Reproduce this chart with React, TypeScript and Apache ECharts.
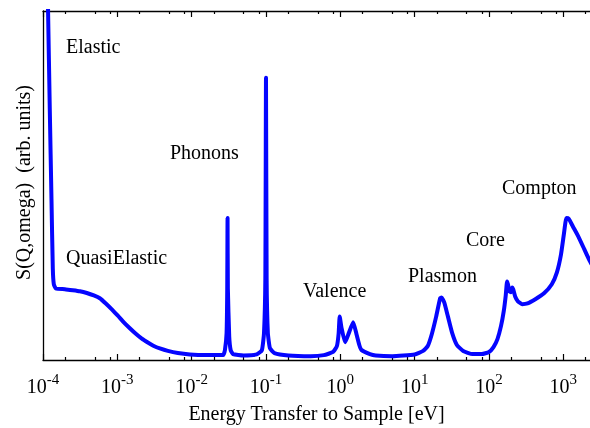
import React, { useEffect, useRef } from "react";
import * as echarts from "echarts";

// Energy transfer (eV) and S(Q,omega) in arbitrary units (0..100 = plot height)
const energies = [
  1.14e-4, 1.17e-4, 1.234e-4, 1.3e-4, 1.355e-4, 1.398e-4, 1.487e-4, 1.965e-4, 2.518e-4, 3.128e-4,
  3.886e-4, 4.828e-4, 5.815e-4, 7.001e-4, 8.433e-4, 1.0155e-3, 1.223e-3, 1.473e-3, 1.774e-3, 2.136e-3,
  2.573e-3, 3.099e-3, 3.733e-3, 4.782e-3, 6.52e-3, 9.46e-3, 0.01506, 0.0265, 0.028, 0.0295,
  0.0301, 0.0304, 0.0307, 0.032, 0.0335, 0.036, 0.05, 0.075, 0.088, 0.094,
  0.098, 0.1, 0.102, 0.106, 0.113, 0.13, 0.2, 0.4, 0.6, 0.8,
  0.9, 0.95, 0.98, 1.04, 1.16, 1.3, 1.49, 1.65, 1.8, 1.92,
  2.5, 3, 5, 10, 13, 15, 17, 19.5, 22, 23,
  25, 28, 32, 37, 45, 60, 80, 100, 115, 130,
  145, 158, 168, 175, 180, 188, 197, 205, 212, 225,
  245, 280, 330, 420, 550, 700, 820, 930, 1020, 1100,
  1180, 1350, 1600, 1900, 2250, 2400,
];
const intensity = [
  114.5, 100, 71.8, 46.2, 26.2, 21.7, 20.5, 20.3, 20.0, 19.7,
  19.2, 18.5, 17.7, 16.2, 14.5, 12.7, 10.8, 9.1, 7.5, 6.1,
  5.0, 4.0, 3.3, 2.6, 2.0, 1.6, 1.4, 1.4, 2.8, 7.7,
  20.5, 40.7, 20.5, 6.8, 2.8, 1.7, 1.3, 1.6, 2.8, 7.7,
  23.4, 80.9, 23.4, 7.7, 3.4, 2.0, 1.3, 1.1, 1.4, 2.3,
  4.0, 7.7, 12.5, 9.1, 5.1, 7.7, 10.8, 7.4, 4.3, 2.9,
  1.7, 1.3, 1.1, 1.6, 2.6, 4.0, 7.4, 12.5, 17.7, 17.9,
  16.5, 12.5, 7.7, 4.3, 2.6, 1.7, 1.7, 2.3, 3.7, 6.0,
  9.7, 14.0, 18.5, 22.5, 21.7, 19.7, 19.4, 20.8, 20.2, 18.2,
  16.8, 16.0, 16.2, 17.4, 19.1, 21.7, 25.1, 30.2, 36.2, 40.7,
  40.5, 38.2, 35.3, 31.9, 28.5, 27.4,
];

// Axis range (decade exponents) and tick positions
const xMinExp = -4;
const xMaxExp = 3.359;
const majorExps = [-4, -3, -2, -1, 0, 1, 2, 3];
const minorFactors = [2, 5, 8];

const peakLabels = [
  { text: "Elastic", x: 66, y: 46 },
  { text: "QuasiElastic", x: 66, y: 257 },
  { text: "Phonons", x: 170, y: 152 },
  { text: "Valence", x: 303, y: 290 },
  { text: "Plasmon", x: 408, y: 275 },
  { text: "Core", x: 466, y: 239 },
  { text: "Compton", x: 502, y: 187 },
];

const xTitle = "Energy Transfer to Sample [eV]";
const yTitle = "S(Q,omega)  (arb. units)";

const FONT = "'Liberation Serif', 'Times New Roman', Times, serif";

export default function App() {
  const ref = useRef<HTMLDivElement>(null);
  useEffect(() => {
    if (!ref.current) return;
    const chart = echarts.init(ref.current, null, { renderer: "svg" });
    const minorExps: number[] = [];
    for (let d = xMinExp; d < Math.ceil(xMaxExp); d++) {
      for (const f of minorFactors) {
        const v = d + Math.log10(f);
        if (v <= xMaxExp) minorExps.push(v);
      }
    }
    const data = energies.map((e, i) => [Math.log10(e), intensity[i]]);
    const axisLineStyle = { color: "#000", width: 1.3 };
    const baseX = { type: "value", min: xMinExp, max: xMaxExp, gridIndex: 0, splitLine: { show: false } };
    chart.setOption({
      animation: false,
      grid: { left: 43, right: 0, top: 11, bottom: 66, containLabel: false },
      xAxis: [
        {
          ...baseX,
          position: "bottom",
          axisLine: { show: true, onZero: false, lineStyle: axisLineStyle },
          axisTick: { show: true, inside: true, length: 6, customValues: majorExps, lineStyle: { color: "#000", width: 1.2 } },
          axisLabel: {
            show: true,
            customValues: majorExps,
            margin: 8,
            fontFamily: FONT,
            formatter: (v: number) => `{b|10}{s|${Math.round(v)}}`,
            rich: {
              b: { fontSize: 20, fontFamily: FONT, color: "#000", verticalAlign: "bottom", lineHeight: 28 },
              s: { fontSize: 15, fontFamily: FONT, color: "#000", verticalAlign: "bottom", padding: [0, 0, 10, 0], lineHeight: 15 },
            },
          },
          name: xTitle,
          nameLocation: "middle",
          nameGap: 43,
          nameTextStyle: { fontFamily: FONT, fontSize: 20, color: "#000" },
        },
        {
          ...baseX,
          position: "bottom",
          axisLine: { show: false, onZero: false },
          axisTick: { show: true, inside: true, length: 3, customValues: minorExps, lineStyle: { color: "#000", width: 1.2 } },
          axisLabel: { show: false },
        },
        {
          ...baseX,
          position: "top",
          axisLine: { show: true, onZero: false, lineStyle: axisLineStyle },
          axisTick: { show: true, inside: true, length: 6, customValues: majorExps, lineStyle: { color: "#000", width: 1.2 } },
          axisLabel: { show: false },
        },
        {
          ...baseX,
          position: "top",
          axisLine: { show: false, onZero: false },
          axisTick: { show: true, inside: true, length: 3, customValues: minorExps, lineStyle: { color: "#000", width: 1.2 } },
          axisLabel: { show: false },
        },
      ],
      yAxis: {
        type: "value",
        min: 0,
        max: 100,
        position: "left",
        axisLine: { show: true, onZero: false, lineStyle: axisLineStyle },
        axisTick: { show: false },
        axisLabel: { show: false },
        splitLine: { show: false },
        name: yTitle,
        nameLocation: "middle",
        nameGap: 10,
        nameTextStyle: { fontFamily: FONT, fontSize: 20, color: "#000", padding: [0, 0, 0, 6] },
      },
      series: [
        {
          type: "line",
          xAxisIndex: 0,
          data,
          showSymbol: false,
          symbol: "none",
          clip: true,
          smooth: 0.15,
          lineStyle: { color: "#0505ff", width: 4, join: "round" },
        },
      ],
      graphic: peakLabels.map((l) => ({
        type: "text",
        x: l.x,
        y: l.y,
        style: { text: l.text, fontFamily: FONT, fontSize: 20, fill: "#000", verticalAlign: "middle", align: "left" },
      })),
    });
    return () => chart.dispose();
  }, []);
  return <div ref={ref} style={{ width: 590, height: 428, position: "fixed", left: 0, top: 0 }} />;
}
